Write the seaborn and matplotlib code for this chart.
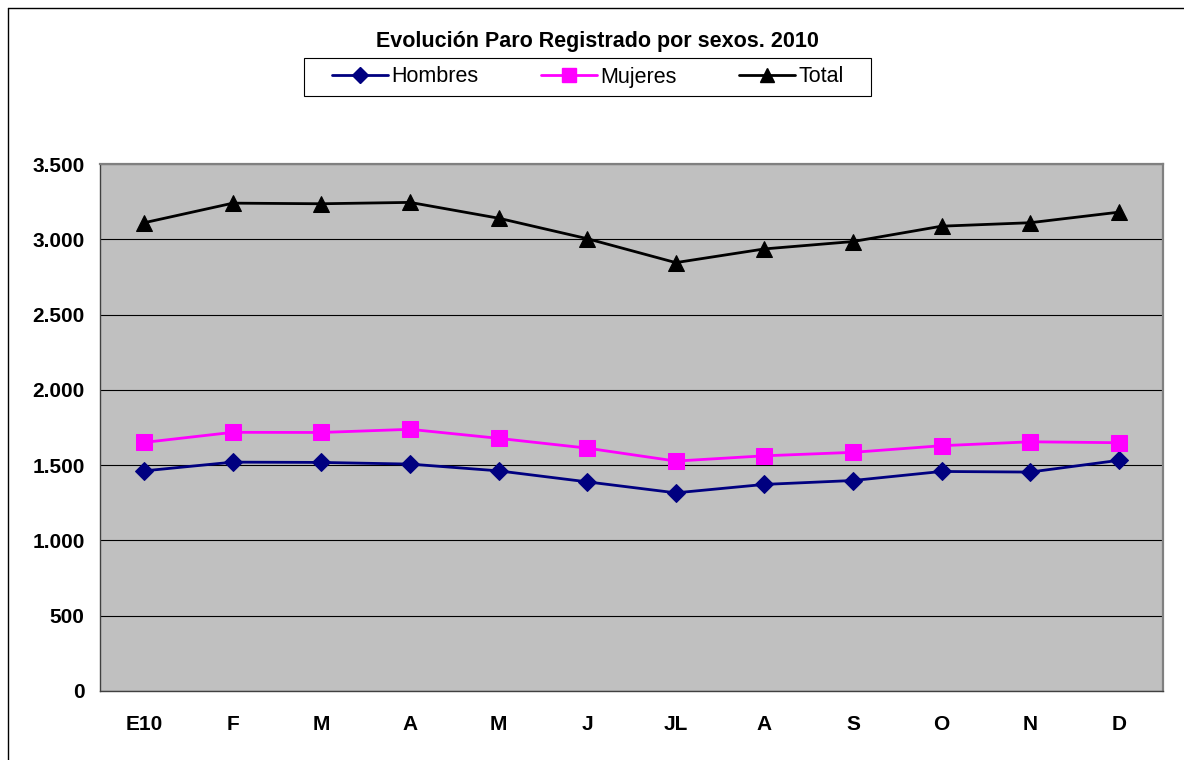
import matplotlib
matplotlib.use("Agg")
import matplotlib.pyplot as plt
import matplotlib.lines as mlines
import matplotlib.patches as mpatches
import matplotlib.ticker as mticker
import numpy as np
import pandas as pd
import seaborn as sns

meses = ["E10", "F", "M", "A", "M", "J", "JL", "A", "S", "O", "N", "D"]
hombres = [1462, 1520, 1518, 1507, 1462, 1389, 1316, 1372, 1398, 1458, 1454, 1532]
mujeres = [1651, 1718, 1717, 1738, 1678, 1613, 1527, 1562, 1585, 1629, 1655, 1649]
total = [3110, 3240, 3236, 3245, 3140, 3004, 2845, 2936, 2985, 3087, 3110, 3180]

series = ["Hombres", "Mujeres", "Total"]
colores = {"Hombres": "#000080", "Mujeres": "#FF00FF", "Total": "#000000"}
marcadores = {"Hombres": "D", "Mujeres": "s", "Total": "^"}
tamanos = {"Hombres": 9.5, "Mujeres": 11, "Total": 11}

pos = np.arange(len(meses))
df = pd.DataFrame({
    "pos": np.tile(pos, 3),
    "valor": hombres + mujeres + total,
    "serie": np.repeat(series, len(meses)),
})

sns.set_style("white")
plt.rcParams["font.family"] = ["Liberation Sans", "DejaVu Sans"]
plt.rcParams["text.color"] = "black"
plt.rcParams["xtick.color"] = "black"
plt.rcParams["ytick.color"] = "black"

fig = plt.figure(figsize=(11.84, 7.6), dpi=100)
ax = fig.add_axes([100 / 1184, 1 - 691 / 760, 1063 / 1184, 527 / 760])
ax.set_facecolor("#C0C0C0")

sns.lineplot(data=df, x="pos", y="valor", hue="serie", style="serie",
             palette=colores, markers=marcadores, dashes=False,
             linewidth=2.0, legend=False, ax=ax)
for ln, s in zip(ax.lines, series):
    ln.set_markersize(tamanos[s])
    ln.set_markeredgecolor(colores[s])
    ln.set_markerfacecolor(colores[s])

ax.set_xlim(-0.5, len(meses) - 0.5)
ax.set_ylim(0, 3500)
ax.yaxis.set_major_locator(mticker.MultipleLocator(500))
ax.yaxis.set_major_formatter(mticker.FuncFormatter(lambda v, p: f"{int(v):,}".replace(",", ".")))
ax.set_xticks(pos)
ax.set_xticklabels(meses, fontsize=15, fontweight="bold")
ax.set_xticks(np.arange(-0.5, len(meses), 1), minor=True)
ax.tick_params(axis="x", which="major", length=0, pad=17)
ax.tick_params(axis="x", which="minor", length=6, width=0.8, color="black", direction="out")
ax.tick_params(axis="y", length=5, width=0.8, color="black", direction="out", pad=6,
               labelsize=15)
for lab in ax.get_yticklabels():
    lab.set_fontweight("bold")
ax.set_xlabel("")
ax.set_ylabel("")
ax.yaxis.grid(True, color="black", linewidth=0.8)
ax.set_axisbelow(True)

for s in ["top", "right"]:
    ax.spines[s].set_color("#808080")
    ax.spines[s].set_linewidth(1.6)
for s in ["left", "bottom"]:
    ax.spines[s].set_color("#404040")
    ax.spines[s].set_linewidth(1.0)

fig.text(597 / 1184, 1 - 42 / 760, "Evolución Paro Registrado por sexos. 2010",
         ha="center", va="center", fontsize=15.5, fontweight="bold")

handles = [mlines.Line2D([], [], color=colores[s], marker=marcadores[s],
                         markersize=tamanos[s] - 1, linewidth=2.0)
           for s in series]
leg = fig.legend(handles, series, loc="center", bbox_to_anchor=(588 / 1184, 1 - 77 / 760),
                 ncol=3, fontsize=15.5, frameon=False,
                 handlelength=2.6, handletextpad=0.15, columnspacing=2.9)
fig.add_artist(mpatches.Rectangle((304 / 1184, 1 - 96 / 760), 567 / 1184, 38 / 760,
                                  transform=fig.transFigure, fill=False,
                                  edgecolor="black", linewidth=0.8))

fig.add_artist(mlines.Line2D([8 / 1184, 8 / 1184], [0, 1 - 8 / 760],
                             color="black", linewidth=1.0, transform=fig.transFigure))
fig.add_artist(mlines.Line2D([8 / 1184, 1], [1 - 8 / 760, 1 - 8 / 760],
                             color="black", linewidth=1.0, transform=fig.transFigure))

fig.savefig("out.png", dpi=100, facecolor="white")
